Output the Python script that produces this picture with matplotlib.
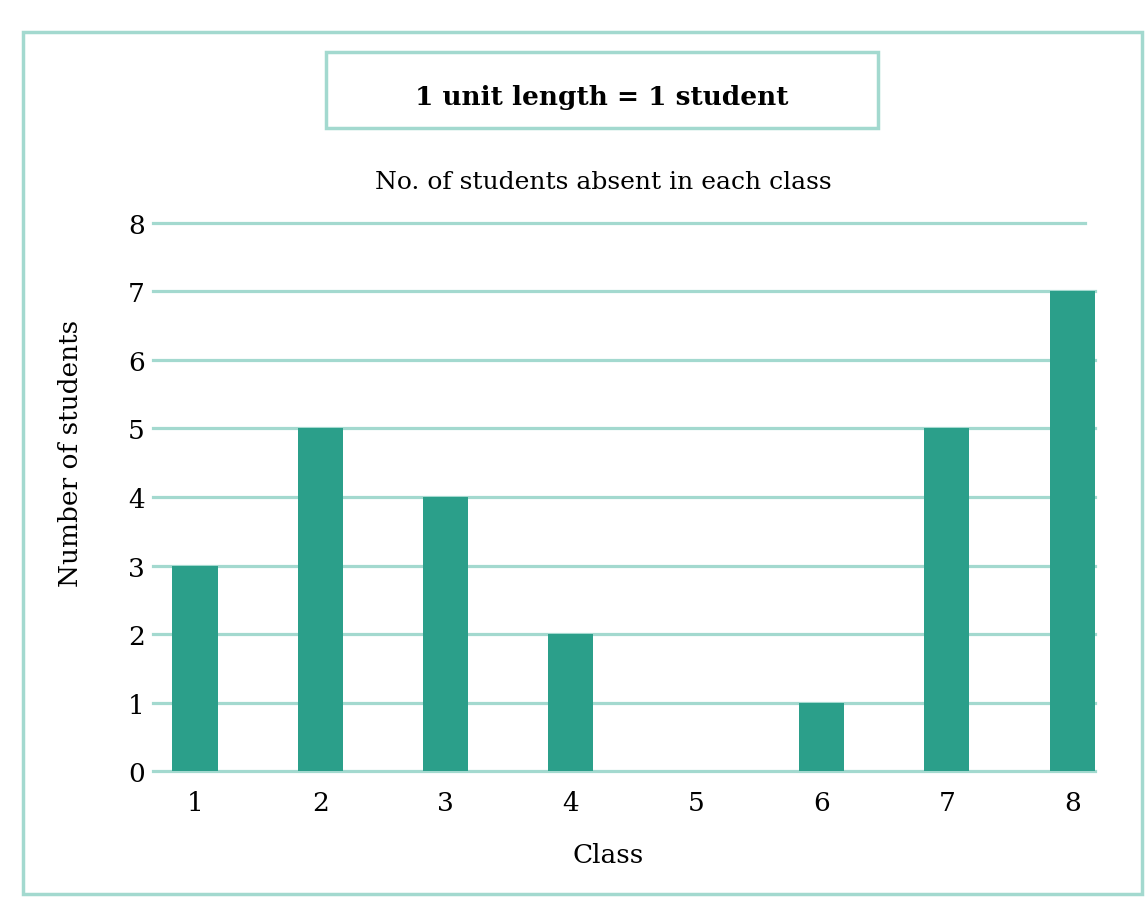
import matplotlib.pyplot as plt
from matplotlib.patches import Rectangle

# data
classes = ["1", "2", "3", "4", "5", "6", "7", "8"]
absent = [3, 5, 4, 2, 0, 1, 5, 7]
y_ticks = [0, 1, 2, 3, 4, 5, 6, 7, 8]

bar_color = "#2b9f8a"
line_color = "#a3d9cf"

plt.rcParams["font.family"] = ["DejaVu Serif"]

fig = plt.figure(figsize=(11.45, 9.12), dpi=100)
ax = fig.add_axes([0.1336, 0.1535, 0.8225, 0.6009])

# bars
x = range(len(classes))
ax.bar(x, absent, width=0.36, color=bar_color, zorder=3)

ax.set_xlim(-0.335, 7.18)
ax.set_ylim(0, 8)
ax.set_xticks(list(x))
ax.set_xticklabels(classes)
ax.set_yticks(y_ticks)

# horizontal grid lines
for t in y_ticks:
    ax.axhline(t, color=line_color, lw=2.3, zorder=1, clip_on=False,
               xmax=0.99 if t == 8 else 1.0)

for s in ax.spines.values():
    s.set_visible(False)
ax.tick_params(length=0, labelsize=19, pad=6)
ax.tick_params(axis="x", pad=14)

ax.set_xlabel("Class", fontsize=19, labelpad=19)
ax.set_ylabel("Number of students", fontsize=19, labelpad=32)
ax.xaxis.label.set_x(0.483)
ax.yaxis.label.set_y(0.582)

# title
fig.text(0.527, 0.8, "No. of students absent in each class",
         ha="center", va="center", fontsize=18)

# key box
fig.patches.append(Rectangle((326 / 1145, 1 - 129 / 912), 552 / 1145, 76 / 912,
                             transform=fig.transFigure, fill=False,
                             edgecolor=line_color, lw=2.5))
fig.text(602 / 1145, 1 - 97 / 912, "1 unit length = 1 student",
         ha="center", va="center", fontsize=19, fontweight="bold")

# outer frame
fig.patches.append(Rectangle((23 / 1145, 1 - 895 / 912), 1119 / 1145, 862 / 912,
                             transform=fig.transFigure, fill=False,
                             edgecolor=line_color, lw=2.5))

fig.savefig("out.png", dpi=100)
